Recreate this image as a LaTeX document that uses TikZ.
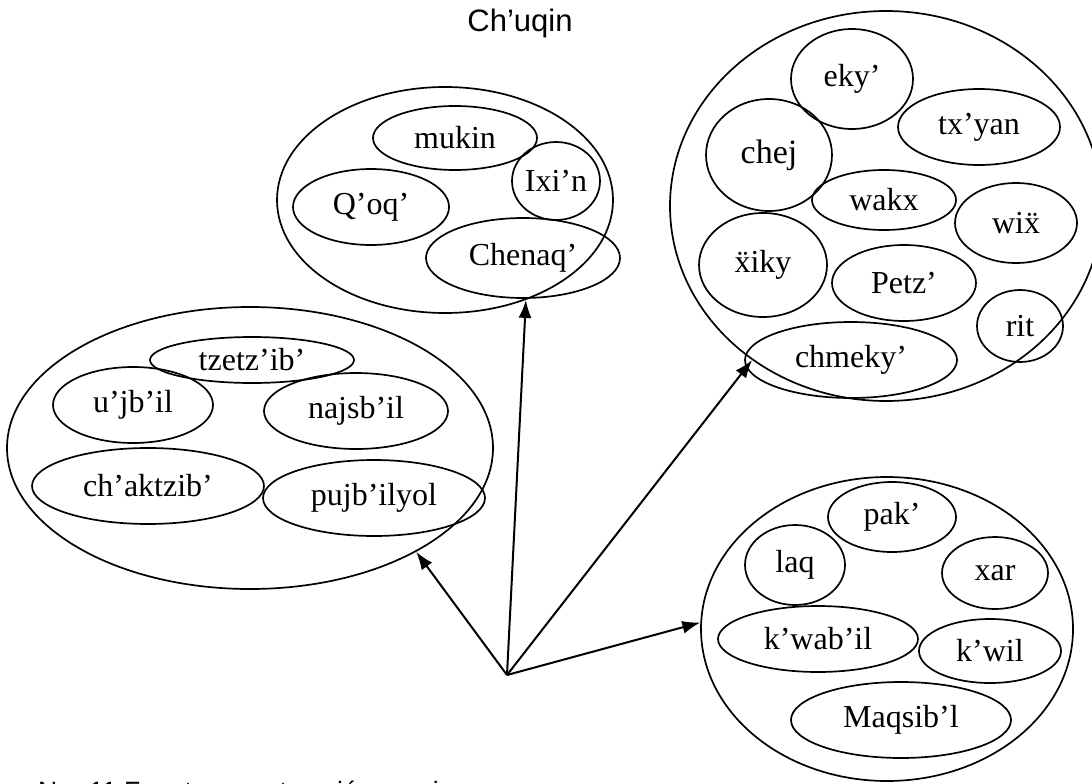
\documentclass[tikz,border=0pt]{standalone}
\usepackage{fontspec}
\setmainfont{Liberation Serif}
\newfontfamily\arialfont{Liberation Sans}
\usepackage{tikz}
\usetikzlibrary{shapes.geometric}
\usetikzlibrary{arrows.meta}

\tikzset{
  word/.style={draw, ellipse, inner sep=0pt, line width=1.7pt, font=\fontsize{32}{36}\selectfont},
  group/.style={draw, ellipse, inner sep=0pt, line width=1.7pt},
  link/.style={-{Latex[length=18pt,width=13pt]}, line width=2pt}
}

\begin{document}
\begin{tikzpicture}[x=1pt, y=-1pt]
                \clip (0,0) rectangle (1092,784);

                % Title and caption
                \node[font=\arialfont\fontsize{31}{34}\selectfont, anchor=base] (title) at (520,32) {Ch’uqin};
                \node[font=\arialfont\fontsize{26.5}{30}\selectfont, anchor=base west, inner sep=0pt] (caption) at (38,800) {No. 11 Fuente: construcción propia};

                % Top group
                \node[group, minimum width=336pt, minimum height=226pt] (grpA) at (445,200) {};
                \node[word, minimum width=164pt, minimum height=64pt] (mukin) at (455,138) {mukin};
                \node[word, minimum width=156pt, minimum height=76pt] (qoq) at (371,207) {Q’oq’};
                \node[word, minimum width=88pt, minimum height=78pt] (ixin) at (556,181) {Ixi’n};
                \node[word, minimum width=194pt, minimum height=80pt] (chenaq) at (523,258) {Chenaq’};

                % Left group
                \node[group, minimum width=486pt, minimum height=282pt] (grpB) at (250,448) {};
                \node[word, minimum width=204pt, minimum height=46pt] (tzetzib) at (252,360) {tzetz’ib’};
                \node[word, minimum width=160pt, minimum height=76pt] (ujbil) at (133,405) {u’jb’il};
                \node[word, minimum width=184pt, minimum height=76pt] (najsbil) at (356,411) {najsb’il};
                \node[word, minimum width=232pt, minimum height=76pt] (chaktzib) at (148,486) {ch’aktzib’};
                \node[word, minimum width=222pt, minimum height=76pt] (pujbilyol) at (374,498) {pujb’ilyol};

                % Right top group
                \node[group, minimum width=432pt, minimum height=390pt] (grpC) at (886,206) {};
                \node[word, minimum width=122pt, minimum height=100pt] (eky) at (852,79) {eky’};
                \node[word, minimum width=126pt, minimum height=112pt, font=\fontsize{34}{38}\selectfont] (chej) at (769,155) {chej};
                \node[word, minimum width=162pt, minimum height=76pt] (txyan) at (979,127) {tx’yan};
                \node[word, minimum width=144pt, minimum height=60pt] (wakx) at (884,200) {wakx};
                \node[word, minimum width=122pt, minimum height=80pt] (wix) at (1016,223) {wi\"x};
                \node[word, minimum width=128pt, minimum height=104pt] (xiky) at (763,265) {\"xiky};
                \node[word, minimum width=144pt, minimum height=76pt] (petz) at (904,283) {Petz’};
                \node[word, minimum width=86pt, minimum height=72pt] (rit) at (1020,326) {rit};
                \node[word, minimum width=212pt, minimum height=76pt] (chmeky) at (851,360) {chmeky’};

                % Right bottom group
                \node[group, minimum width=372pt, minimum height=304pt] (grpD) at (887,629) {};
                \node[word, minimum width=128pt, minimum height=70pt] (pak) at (892,517) {pak’};
                \node[word, minimum width=100pt, minimum height=80pt] (laq) at (795,565) {laq};
                \node[word, minimum width=106pt, minimum height=72pt] (xar) at (995,573) {xar};
                \node[word, minimum width=200pt, minimum height=66pt] (kwabil) at (818,639) {k’wab’il};
                \node[word, minimum width=142pt, minimum height=64pt] (kwil) at (990,651) {k’wil};
                \node[word, minimum width=220pt, minimum height=76pt] (maqsibl) at (901,720) {Maqsib’l};

                % Arrows out of the common point
                \coordinate (src) at (507,675);
                \draw[link] (src) -- (grpB.-32);
                \draw[link] (src) -- (grpA.-51);
                \draw[link] (src) -- (grpC.-131);
                \draw[link] (src) -- (grpD.178);
            \end{tikzpicture}
\end{document}
